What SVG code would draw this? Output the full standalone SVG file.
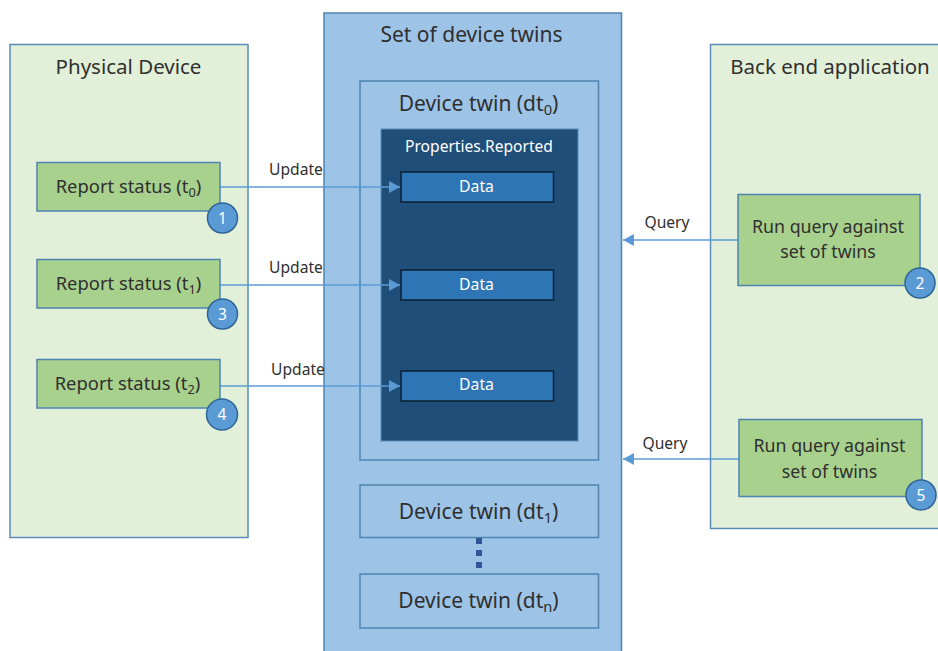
<svg xmlns="http://www.w3.org/2000/svg" width="938" height="651" viewBox="0 0 938 651">
<style>
text{font-family:"Noto Sans","Open Sans","Liberation Sans",sans-serif;fill:#2f2f2f;text-anchor:middle}
.panel{fill:#e2efd9;stroke:#5b8db8;stroke-width:1.5}
.step{fill:#a9d18e;stroke:#4f84b0;stroke-width:1.5}
.twin{fill:#9dc3e6;stroke:#4f84b0;stroke-width:1.5}
.props{fill:#1f4e79;stroke:#5b8db8;stroke-width:1}
.data{fill:#2e75b6;stroke:#0d1f33;stroke-width:1.5}
.badge{fill:#5b9bd5;stroke:#2f6596;stroke-width:1.5}
.t20{font-size:20.5px}.t21{font-size:21px}.t18{font-size:18.4px}.t17{font-size:17.8px}.t14{font-size:15.6px}.t15{font-size:15.8px}.tn{font-size:15.5px}
.w{fill:#fff}.sub{font-size:70%}
.conn{stroke:#5b9bd5;stroke-width:1.5;fill:none;marker-end:url(#arrow)}
</style>
<defs>
<marker id="arrow" markerUnits="userSpaceOnUse" markerWidth="12" markerHeight="12" refX="11" refY="6" orient="auto">
<path d="M0 0L11 6L0 12Z" fill="#5b9bd5"/>
</marker>
</defs>
<rect width="938" height="651" fill="#fff"/>
<g id="physical-device"><rect class="panel" x="10" y="44.500" width="238" height="493"/><text class="t20" x="128.500" y="74">Physical Device</text></g>
<g id="back-end"><rect class="panel" x="710.500" y="44.500" width="240" height="484"/><text class="t20" x="830" y="74">Back end application</text></g>
<g id="device-twins"><rect class="twin" x="324" y="13" width="297.500" height="650"/><text class="t21" x="471.500" y="42">Set of device twins</text></g>
<g id="twin-0"><rect class="twin" x="360" y="81" width="238.500" height="379"/><text class="t21" x="478.500" y="111">Device twin (dt<tspan class="sub" dy="4">0</tspan><tspan dy="-4">)</tspan></text></g>
<g id="properties"><rect class="props" x="381" y="129" width="197" height="312"/><text class="t14 w" x="479" y="152">Properties.Reported</text></g>
<g id="data-0"><rect class="data" x="401" y="172" width="152.500" height="30"/><text class="t15 w" x="476.500" y="191.500">Data</text></g>
<g id="data-1"><rect class="data" x="401" y="270" width="152.500" height="30"/><text class="t15 w" x="476.500" y="289.500">Data</text></g>
<g id="data-2"><rect class="data" x="401" y="371" width="152.500" height="30"/><text class="t15 w" x="476.500" y="390">Data</text></g>
<g id="twin-1"><rect class="twin" x="360" y="485" width="238.500" height="52.500"/><text class="t21" x="478.500" y="519">Device twin (dt<tspan class="sub" dy="4">1</tspan><tspan dy="-4">)</tspan></text></g>
<g id="twin-n"><rect class="twin" x="360" y="574" width="238.500" height="54"/><text class="t21" x="478.500" y="608">Device twin (dt<tspan class="sub" dy="4">n</tspan><tspan dy="-4">)</tspan></text></g>
<g id="connectors">
<path class="conn" d="M220 187H400"/>
<path class="conn" d="M220 285H400"/>
<path class="conn" d="M220 386H400"/>
<path class="conn" d="M738 240H623"/>
<path class="conn" d="M739 459H623"/>
<path d="M479 538V568" stroke="#2f5597" stroke-width="6" stroke-dasharray="6 6" fill="none"/>
<text class="t14" x="296" y="175">Update</text>
<text class="t14" x="296" y="273">Update</text>
<text class="t14" x="298" y="375">Update</text>
<text class="t14" x="667" y="228">Query</text>
<text class="t14" x="665" y="449">Query</text>
</g>
<g id="step-1"><rect class="step" x="37" y="162.500" width="183" height="48.500"/><text class="t18" x="128.500" y="193">Report status (t<tspan class="sub" dy="4">0</tspan><tspan dy="-4">)</tspan></text></g>
<g id="step-3"><rect class="step" x="37" y="259.500" width="183" height="48.500"/><text class="t18" x="128.500" y="290">Report status (t<tspan class="sub" dy="4">1</tspan><tspan dy="-4">)</tspan></text></g>
<g id="step-4"><rect class="step" x="37" y="359.500" width="183" height="48.500"/><text class="t18" x="127.500" y="390">Report status (t<tspan class="sub" dy="4">2</tspan><tspan dy="-4">)</tspan></text></g>
<g id="step-2"><rect class="step" x="738" y="194.500" width="182" height="91"/><text class="t17" x="828" y="233">Run query against</text><text class="t17" x="828" y="258">set of twins</text></g>
<g id="step-5"><rect class="step" x="739" y="419.500" width="183" height="77"/><text class="t17" x="829.500" y="452">Run query against</text><text class="t17" x="829.500" y="477.500">set of twins</text></g>
<g id="badge-1"><circle class="badge" cx="222.500" cy="218" r="15"/><text class="tn w" x="222.500" y="223.500">1</text></g>
<g id="badge-3"><circle class="badge" cx="222.500" cy="314" r="15"/><text class="tn w" x="222.500" y="319.500">3</text></g>
<g id="badge-4"><circle class="badge" cx="222" cy="414.500" r="15.500"/><text class="tn w" x="222" y="420">4</text></g>
<g id="badge-2"><circle class="badge" cx="920" cy="283" r="15"/><text class="tn w" x="920" y="288.500">2</text></g>
<g id="badge-5"><circle class="badge" cx="921" cy="495" r="15"/><text class="tn w" x="921" y="500.500">5</text></g>
</svg>
